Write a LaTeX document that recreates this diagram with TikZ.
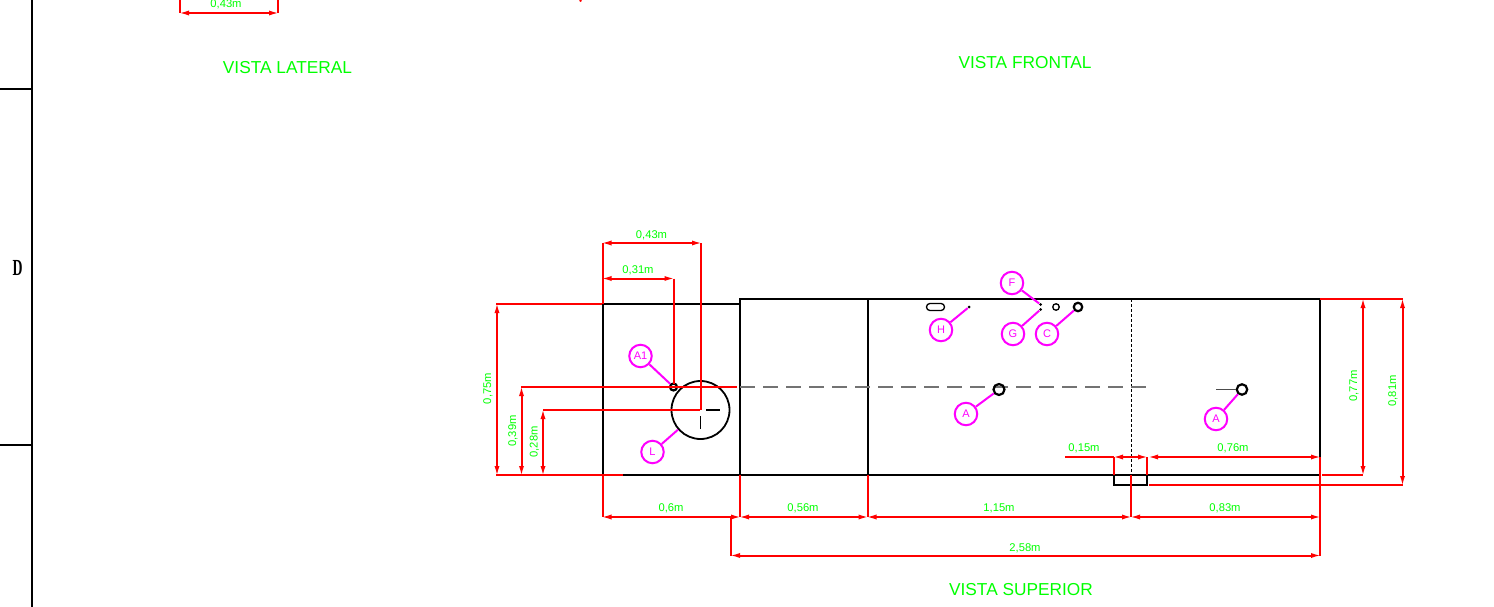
\documentclass[tikz,border=0pt]{standalone}
\usepackage{fontspec}
\setmainfont{Liberation Sans}
\newfontfamily\dfont{Liberation Serif}
\usetikzlibrary{arrows.meta}
\definecolor{dimred}{RGB}{255,0,0}
\definecolor{txtgreen}{RGB}{0,255,0}
\definecolor{bubble}{RGB}{255,0,255}
\tikzset{
  outline/.style={draw=black,line width=2pt},
  thinout/.style={draw=black,line width=1.5pt},
  ext/.style={draw=dimred,line width=2pt},
  dimarrow/.style={draw=dimred,line width=2pt,shorten <=-2pt,shorten >=-2pt,{Latex[length=11pt,width=5pt]}-{Latex[length=11pt,width=5pt]}},
  dimlabel/.style={text=txtgreen,font=\fontsize{11.2pt}{12pt}\selectfont,inner sep=0pt},
  viewlabel/.style={text=txtgreen,font=\fontsize{17.3pt}{18pt}\selectfont,inner sep=0pt},
  tag/.style={circle,draw=bubble,line width=2pt,minimum size=22.5pt,inner sep=0pt,text=bubble,font=\fontsize{11pt}{12pt}\selectfont},
  leader/.style={draw=bubble,line width=2pt},
  hole/.style={circle,draw=black,inner sep=0pt,line width=1.3pt},
  thickhole/.style={circle,draw=black,inner sep=0pt,line width=2.2pt},
  dotm/.style={circle,fill=black,inner sep=0pt,minimum size=3pt},
}
\begin{document}
\begin{tikzpicture}[x=1pt,y=-1pt]
\useasboundingbox (0,0) rectangle (1494,607);
\clip (0,0) rectangle (1494,607);
\fill[white] (0,0) rectangle (1494,607);
% sheet frame
\draw[outline] (32,0) -- (32,607);
\draw[outline] (0,89.5) -- (32,89.5);
\draw[outline] (0,445) -- (32,445);
\node[inner sep=0pt,xscale=.6,font=\dfont\bfseries\fontsize{23pt}{24pt}\selectfont] (sheetD) at (17.5,268) {D};
% top-left remains of the lateral view
\draw[ext] (180,0) -- (180,13);
\draw[ext] (278,0) -- (278,13);
\draw[dimarrow] (180,13) -- (278,13);
\node[dimlabel] (dLat) at (226,4) {0,43m};
\draw[ext] (581,0) -- (580,1.5);
% view titles
\node[viewlabel] (vLat) at (287.5,67.5) {VISTA LATERAL};
\node[viewlabel] (vFro) at (1025,62.5) {VISTA FRONTAL};
\node[viewlabel] (vSup) at (1021,589.5) {VISTA SUPERIOR};
% body outline
\draw[outline] (602.5,475) -- (602.5,304) -- (740,304);
\draw[outline] (740,475) -- (740,299) -- (1320,299) -- (1320,475) -- (623,475);
\draw[outline] (867.5,299) -- (867.5,475);
\draw[thinout] (1114,475) -- (1114,485) -- (1147,485) -- (1147,475);
\draw[draw=black,line width=1pt,dash pattern=on 3pt off 2pt] (1131,299) -- (1131,475);
\draw[draw=black!55,line width=2pt,dash pattern=on 15pt off 8pt] (740,386.5) -- (1151,386.5);
% features
\node[circle,draw=black,line width=1.8pt,minimum size=58pt,inner sep=0pt] (bigC) at (700.5,410) {};
\draw[thinout] (706,410) -- (720,410);
\draw[thinout] (700.5,416) -- (700.5,429);
\node[thickhole,minimum size=7pt] (holeAone) at (673.5,387) {};
\node[draw=black,line width=1.3pt,rounded corners=3.4pt,minimum width=18pt,minimum height=7pt,inner sep=0pt] (slot) at (935.5,307) {};
\node[dotm] (dotH) at (969,307) {};
\node[dotm] (dotF) at (1040.5,304.5) {};
\node[dotm] (dotG) at (1040.5,309.5) {};
\node[hole,minimum size=6.5pt] (holeM) at (1056,307) {};
\node[thickhole,minimum size=8.5pt] (holeC) at (1078,307) {};
\node[thickhole,minimum size=11pt] (holeA) at (999,389.5) {};
\node[thickhole,minimum size=10.5pt] (holeB) at (1242,389.5) {};
\coordinate (tickB) at (1216,389.5);
\draw[draw=black!70,line width=1.5pt] (tickB) -- (holeB);
% extension lines
\draw[ext] (496,304) -- (602,304);
\draw[ext] (496,475) -- (623,475);
\draw[ext] (521,387) -- (737,387);
\draw[ext] (543,410) -- (700,410);
\draw[ext] (602.5,243) -- (602.5,304);
\draw[ext] (701,243) -- (701,410);
\draw[ext] (673.5,278.5) -- (673.5,384);
\draw[ext] (602.5,475) -- (602.5,517);
\draw[ext] (740,475) -- (740,517);
\draw[ext] (867.5,475) -- (867.5,517);
\draw[ext] (1131,475) -- (1131,517);
\draw[ext] (731,517) -- (731,556);
\draw[ext] (1320,457) -- (1320,556);
\draw[ext] (1114,457) -- (1114,475);
\draw[ext] (1147,457) -- (1147,475);
\draw[ext] (1065,457) -- (1114,457);
\draw[ext] (1320,299) -- (1403,299);
\draw[ext] (1322,475) -- (1363,475);
\draw[ext] (1149,485) -- (1403,485);
% dimension lines
\draw[dimarrow] (602.5,243) -- (701,243);
\draw[dimarrow] (602.5,278.5) -- (673.5,278.5);
\draw[dimarrow] (497,304) -- (497,475);
\draw[dimarrow] (521.5,387) -- (521.5,475);
\draw[dimarrow] (543,410) -- (543,475);
\draw[dimarrow] (602.5,517) -- (740,517);
\draw[dimarrow] (740,517) -- (867.5,517);
\draw[dimarrow] (867.5,517) -- (1131,517);
\draw[dimarrow] (1131,517) -- (1320,517);
\draw[dimarrow] (731,555.5) -- (1320,555.5);
\draw[dimarrow] (1114,457) -- (1147,457);
\draw[dimarrow] (1149,457) -- (1320,457);
\draw[dimarrow] (1363,299) -- (1363,475);
\draw[dimarrow] (1402.5,299) -- (1402.5,485);
% dimension texts
\node[dimlabel] (d1) at (651.5,235.5) {0,43m};
\node[dimlabel] (d2) at (638,270.5) {0,31m};
\node[dimlabel,rotate=90] (d3) at (488,388.5) {0,75m};
\node[dimlabel,rotate=90] (d4) at (513,431) {0,39m};
\node[dimlabel,rotate=90] (d5) at (534.5,442) {0,28m};
\node[dimlabel] (d6) at (671,508) {0,6m};
\node[dimlabel] (d7) at (803,508) {0,56m};
\node[dimlabel] (d8) at (999,508) {1,15m};
\node[dimlabel] (d9) at (1225,508) {0,83m};
\node[dimlabel] (d10) at (1025,548) {2,58m};
\node[dimlabel] (d11) at (1084,448) {0,15m};
\node[dimlabel] (d12) at (1233,448) {0,76m};
\node[dimlabel,rotate=90] (d13) at (1354,386) {0,77m};
\node[dimlabel,rotate=90] (d14) at (1393,391) {0,81m};
% tags and leaders
\node[tag] (tA1) at (640.5,356) {A1};
\node[tag] (tL) at (652.5,452) {L};
\node[tag] (tH) at (941,330) {H};
\node[tag] (tF) at (1012,283) {F};
\node[tag] (tG) at (1013,334) {G};
\node[tag] (tC) at (1047,334) {C};
\node[tag] (tA) at (966,414) {A};
\node[tag] (tAb) at (1216,419) {A};
\draw[leader] (tA1) -- (holeAone);
\draw[leader] (tL) -- (bigC);
\draw[leader] (tH) -- (dotH);
\draw[leader] (tF) -- (dotF);
\draw[leader] (tG) -- (dotG);
\draw[leader] (tC) -- (holeC);
\draw[leader] (tA) -- (holeA);
\draw[leader] (tAb) -- (holeB);
\end{tikzpicture}
\end{document}
